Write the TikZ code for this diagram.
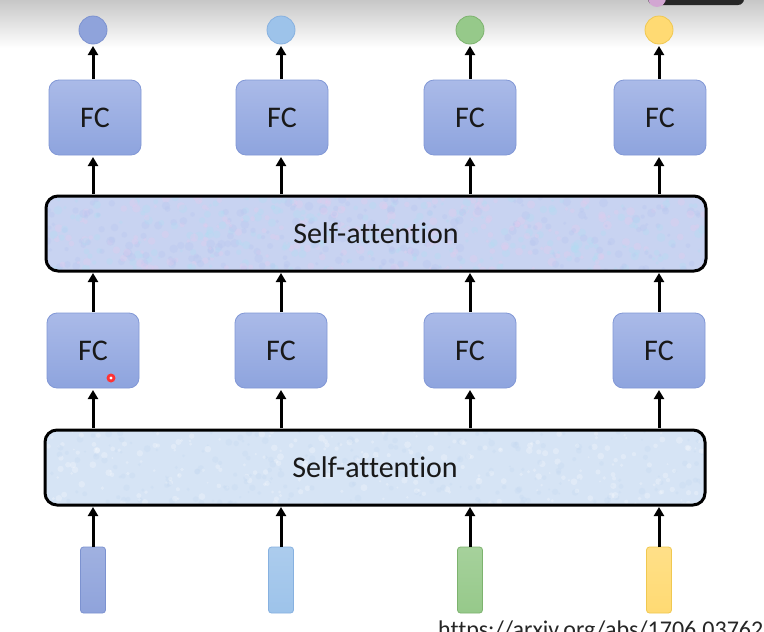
\documentclass[tikz,border=0pt]{standalone}
\usepackage{fontspec}
\setmainfont{Carlito}[Ligatures=CommonOff]
\usetikzlibrary{arrows.meta}
\definecolor{fcTop}{HTML}{AABAE8}
\definecolor{fcBot}{HTML}{8EA4DE}
\definecolor{fcLine}{HTML}{8298D6}
\definecolor{saUp}{HTML}{C8D3F1}
\definecolor{saLow}{HTML}{D6E4F5}
\definecolor{tPink}{HTML}{E2CBEE}
\definecolor{tCyan}{HTML}{B2DCF3}
\definecolor{tBlue}{HTML}{B8C6EF}
\definecolor{tLow}{HTML}{C3D8F1}
\definecolor{cA}{HTML}{8FA3DB}
\definecolor{cAl}{HTML}{7C92D0}
\definecolor{cB}{HTML}{9DC3EA}
\definecolor{cBl}{HTML}{87B1E0}
\definecolor{cC}{HTML}{96C98A}
\definecolor{cCl}{HTML}{7DB36E}
\definecolor{cD}{HTML}{FFDA73}
\definecolor{cDl}{HTML}{F0C850}
\begin{document}
\begin{tikzpicture}[x=1pt,y=-1pt,
  fcbox/.style={draw=fcLine, line width=0.8pt, rounded corners=10pt,
    top color=fcTop, bottom color=fcBot, minimum width=92pt, minimum height=75pt,
    inner sep=0pt, font=\fontsize{30}{34}\selectfont, text=black!90},
  sabox/.style={draw=black, line width=3pt, rounded corners=12pt,
    minimum width=660pt, minimum height=75pt, inner sep=0pt,
    font=\fontsize{30}{34}\selectfont, text=black!90},
  outc/.style={circle, minimum size=28pt, inner sep=0pt, line width=0.8pt},
  inrect/.style={rounded corners=3pt, minimum width=25pt, minimum height=66pt, inner sep=0pt, line width=0.8pt},
  arr/.style={line width=3pt, -{Triangle[width=10pt,length=9pt]}}
]
\useasboundingbox (0,0) rectangle (764,632);
\fill[white] (0,0) rectangle (764,632);
% top video overlay gradient
\shade[top color=black!22, bottom color=white] (0,0) rectangle (764,48);
\fill[black!85, rounded corners=6pt] (648,-10) rectangle (744,5);
\fill[violet!35] (657,-2) circle (9pt);

% output circles
\node[outc, fill=cA, draw=cAl] (o1) at (93,30) {};
\node[outc, fill=cB, draw=cBl] (o2) at (281,30) {};
\node[outc, fill=cC, draw=cCl] (o3) at (470,30) {};
\node[outc, fill=cD, draw=cDl] (o4) at (659,30) {};

% upper FC
\node[fcbox] (u1) at (95,117.5) {FC};
\node[fcbox] (u2) at (282,117.5) {FC};
\node[fcbox] (u3) at (470,117.5) {FC};
\node[fcbox] (u4) at (660,117.5) {FC};

% upper self-attention (textured)
\fill[saUp, rounded corners=12pt] (46,196) rectangle (706,271);
\begin{scope}
  \clip[rounded corners=12pt] (46,196) rectangle (706,271);
  \pgfmathsetseed{7}
  \foreach \i in {1,...,700}{
    \pgfmathsetmacro{\px}{46+660*rnd}
    \pgfmathsetmacro{\py}{196+75*rnd}
    \pgfmathsetmacro{\pr}{1.5+3*rnd}
    \pgfmathtruncatemacro{\pc}{3*rnd}
    \ifcase\pc\relax
      \fill[tPink, opacity=0.35] (\px,\py) circle (\pr pt);
    \or
      \fill[tCyan, opacity=0.35] (\px,\py) circle (\pr pt);
    \else
      \fill[tBlue, opacity=0.35] (\px,\py) circle (\pr pt);
    \fi
  }
\end{scope}
\node[sabox] (sa2) at (376,233.5) {Self-attention};

% lower FC
\node[fcbox] (l1) at (93,350.5) {FC};
\node[fcbox] (l2) at (281,350.5) {FC};
\node[fcbox] (l3) at (470,350.5) {FC};
\node[fcbox] (l4) at (659,350.5) {FC};

% lower self-attention (textured)
\fill[saLow, rounded corners=12pt] (45,430) rectangle (705,505);
\begin{scope}
  \clip[rounded corners=12pt] (45,430) rectangle (705,505);
  \pgfmathsetseed{11}
  \foreach \i in {1,...,500}{
    \pgfmathsetmacro{\px}{45+660*rnd}
    \pgfmathsetmacro{\py}{430+75*rnd}
    \pgfmathsetmacro{\pr}{1+2.5*rnd}
    \pgfmathtruncatemacro{\pc}{2*rnd}
    \ifcase\pc\relax
      \fill[white, opacity=0.25] (\px,\py) circle (\pr pt);
    \else
      \fill[tLow, opacity=0.3] (\px,\py) circle (\pr pt);
    \fi
  }
\end{scope}
\node[sabox] (sa1) at (375,467.5) {Self-attention};

% inputs
\node[inrect, top color=cA!85, bottom color=cA, draw=cAl] (i1) at (93,580) {};
\node[inrect, top color=cB!85, bottom color=cB, draw=cBl] (i2) at (281,580) {};
\node[inrect, top color=cC!85, bottom color=cC, draw=cCl] (i3) at (470,580) {};
\node[inrect, top color=cD!85, bottom color=cD, draw=cDl] (i4) at (659,580) {};

% arrows
\foreach \c/\x in {1/93,2/281,3/470,4/659}{
  \draw[arr] (\x,547) -- (\x,507);
  \draw[arr] (\x,428) -- (\x,390);
  \draw[arr] (\x,312) -- (\x,273);
  \draw[arr] (\x,194) -- (\x,157);
  \draw[arr] (\x,79) -- (\x,46);
}

% cursor
\fill[red!80] (111,378) circle (4.5pt);
\fill[white] (111,378) circle (1.6pt);

% reference link (cut off at bottom, as in the reference)
\node[anchor=north west, inner sep=0pt, font=\fontsize{24}{28}\selectfont, text=black!85] (url) at (438,621) {https://arxiv.org/abs/1706.03762};
\end{tikzpicture}
\end{document}
